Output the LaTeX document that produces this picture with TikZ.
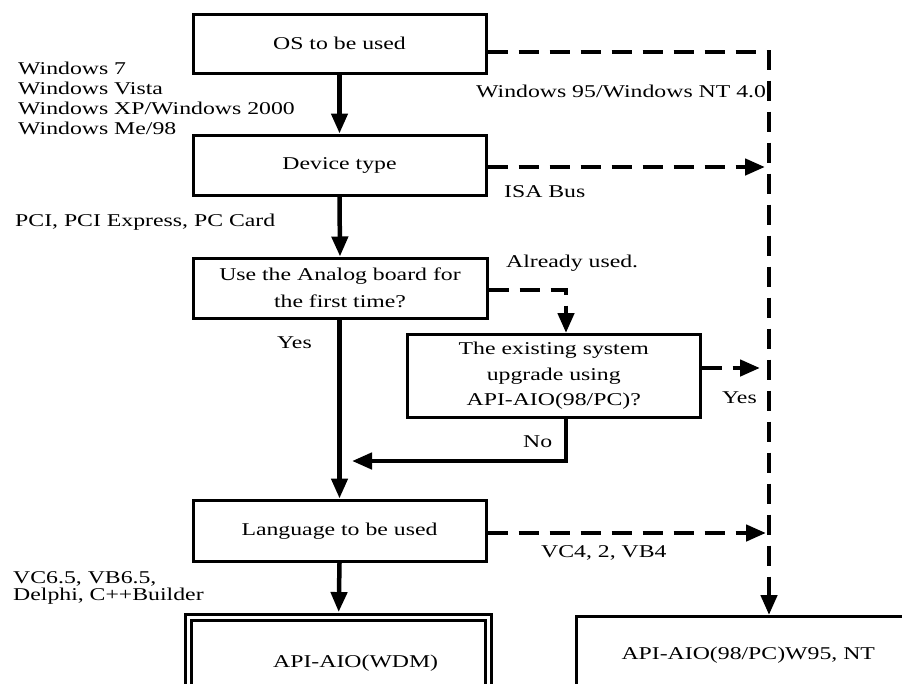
\documentclass[tikz,border=0pt]{standalone}
\usepackage{fontspec}
\setmainfont[FakeStretch=1.32]{Liberation Serif}
\usetikzlibrary{arrows.meta}
\begin{document}
\begin{tikzpicture}[x=1pt,y=-1pt,
  every node/.style={font=\fontsize{18}{20}\selectfont},
  box/.style={draw,line width=3pt,inner sep=0pt},
  solidarrow/.style={line width=4.5pt,-{Triangle[length=20pt,width=16pt]}},
  dasharrow/.style={solidarrow,dash pattern=on 20pt off 11pt},
  lbl/.style={anchor=base west,inner sep=0pt}]
\useasboundingbox[fill=white] (0,0) rectangle (902,683);
% boxes
\node[box,minimum width=293pt,minimum height=59.5pt] (b1) at (339.5,43.75) {OS to be used};
\node[box,minimum width=293pt,minimum height=60pt] (b2) at (339.5,165) {Device type};
\node[box,minimum width=294pt,minimum height=60pt,align=center,font=\fontsize{18}{27}\selectfont] (b3) at (340,288) {Use the Analog board for\\the first time?};
\node[box,minimum width=292.5pt,minimum height=83pt,align=center,font=\fontsize{18}{25.5}\selectfont] (b4) at (553.75,376) {The existing system\\upgrade using\\API-AIO(98/PC)?};
\node[box,minimum width=293pt,minimum height=61.5pt] (b5) at (339.5,530.75) {Language to be used};
\node[draw,line width=2.5pt,double,double distance=3.4pt,minimum width=300pt,minimum height=150pt] (b6) at (338.6,692.5) {};
\node[lbl] (b6t) at (273,667) {API-AIO(WDM)};
\node[box,minimum width=343.5pt,minimum height=78pt] (b7) at (748.25,655.5) {API-AIO(98/PC)W95, NT};
% coordinates
\coordinate (k1) at (769,52);
\coordinate (t2) at (765,167);
\coordinate (k3) at (566,290);
\coordinate (t4) at (760,368);
\coordinate (k4) at (566,461);
\coordinate (t5) at (352,461);
\coordinate (t6) at (766,533);
% solid connectors
\draw[solidarrow] (b1.south) -- (b2.north);
\draw[solidarrow] (b2.south) -- (b3.north);
\draw[solidarrow] (b3.south -| b5.north) -- (b5.north);
\draw[solidarrow,shorten >=4.2pt] (b5.south) -- (b6.north);
\draw[solidarrow] (b4.south -| k4) -- (k4) -- (t5);
% dashed connectors
\draw[dasharrow] (b1.east |- k1) -- (k1) -- (b7.north -| k1);
\draw[dasharrow] (b2.east |- t2) -- (t2);
\draw[dasharrow] (b3.east |- k3) -- (k3) -- (b4.north -| k3);
\draw[dasharrow] (b4.east |- t4) -- (t4);
\draw[dasharrow] (b5.east |- t6) -- (t6);
% labels
\node[lbl] (l1) at (18,74) {Windows 7};
\node[lbl] (l2) at (18,94) {Windows Vista};
\node[lbl] (l3) at (18,114) {Windows XP/Windows 2000};
\node[lbl] (l4) at (18,134) {Windows Me/98};
\node[lbl] (l5) at (476,97) {Windows 95/Windows NT 4.0};
\node[lbl] (l6) at (504,197) {ISA Bus};
\node[lbl] (l7) at (15,226) {PCI, PCI Express, PC Card};
\node[lbl] (l8) at (506,267) {Already used.};
\node[lbl] (l9) at (277,348) {Yes};
\node[lbl] (l10) at (722,403) {Yes};
\node[lbl] (l11) at (523,447) {No};
\node[lbl] (l12) at (541,557) {VC4, 2, VB4};
\node[lbl] (l13) at (13,583) {VC6.5, VB6.5,};
\node[lbl] (l14) at (13,600) {Delphi, C++Builder};
\end{tikzpicture}
\end{document}
